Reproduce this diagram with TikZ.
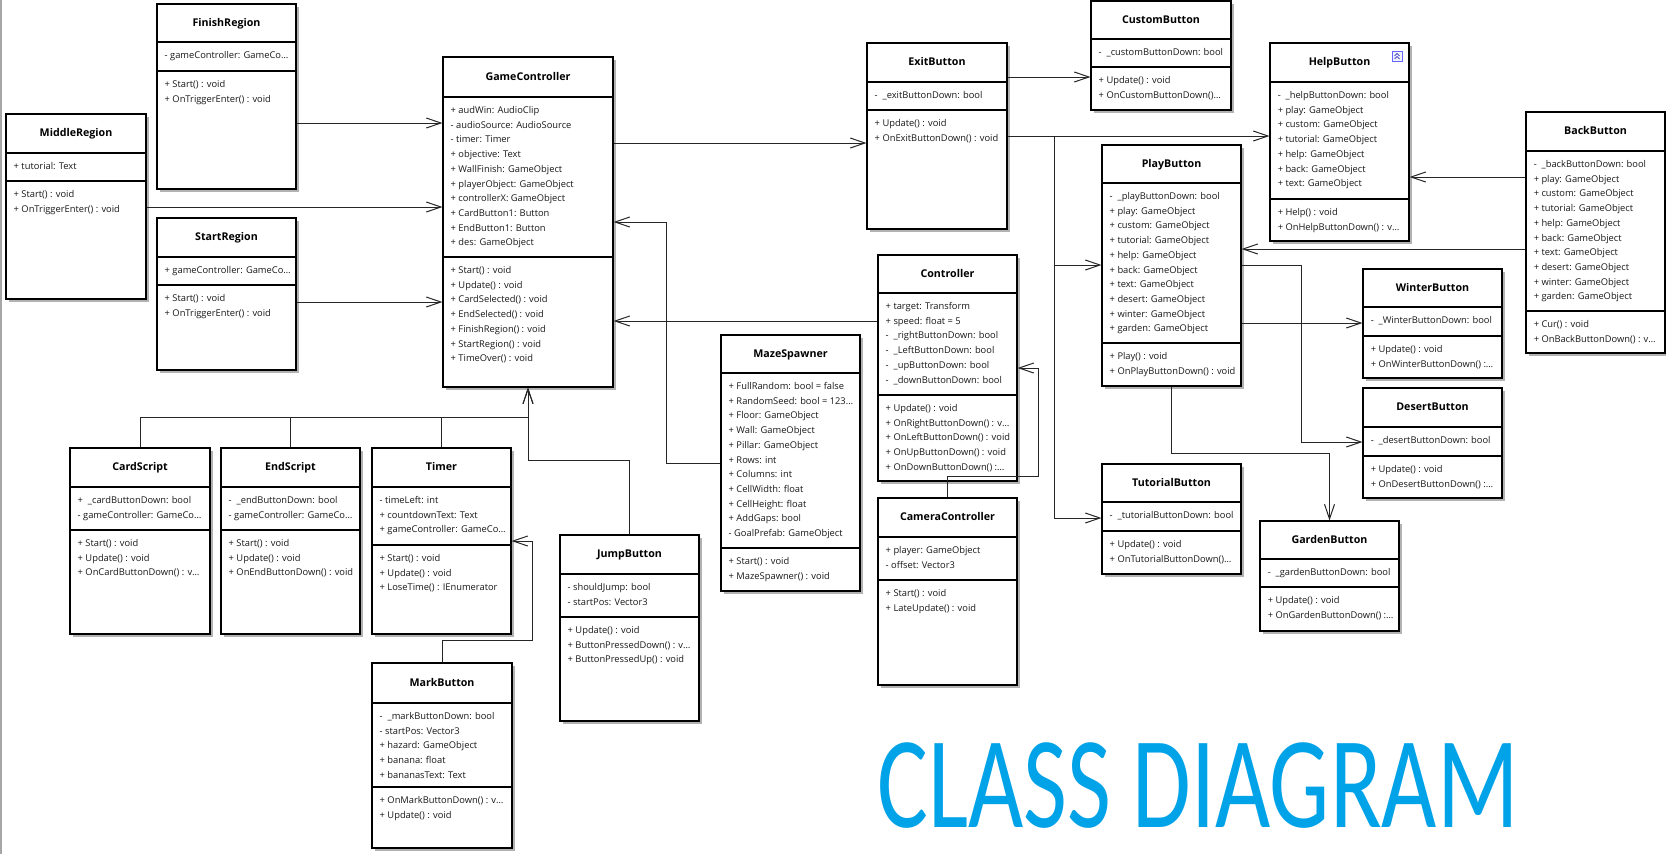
\documentclass[tikz,border=0pt]{standalone}
\usepackage{fontspec}
\setmainfont{Open Sans}
\newfontfamily\titlefont[FakeStretch=0.73]{Carlito}
\usetikzlibrary{arrows.meta,fit,calc,shadows}
\definecolor{titleblue}{RGB}{0,162,232}
\newcommand{\cut}{\dots}

\newcommand{\umlclass}[8]{%
        \node[class box,fit={(#2) (#3)}] (#1) {};
        \draw[class line] (#1.west |- 0,#4) -- (#1.east |- 0,#4);
        \draw[class line] (#1.west |- 0,#5) -- (#1.east |- 0,#5);
        \node[class name] (#1-name) at ($(#1.north)!.5!(#1.north |- 0,#4)+(0,3.5)$) {#6};
        \foreach \entry [count=\i] in {#7}
        \node[member] (#1-a\i) at ($(#1.west |- 0,#4)+(8,{16.5+14.7*(\i-1)})$) {\entry};
        \foreach \entry [count=\i] in {#8}
        \node[member] (#1-m\i) at ($(#1.west |- 0,#5)+(8,{16.5+14.7*(\i-1)})$) {\entry};
}

\begin{document}
\begin{tikzpicture}[x=0.75pt,y=-0.75pt]
        \tikzstyle{class box}=[draw=black,line width=0.8pt,fill=white,inner sep=0,drop shadow={shadow xshift=2.5pt,shadow yshift=-2.5pt,fill=black!30,opacity=1}]
        \tikzstyle{class line}=[draw=black,line width=0.8pt]
        \tikzstyle{class name}=[anchor=base,inner sep=0,font=\bfseries\fontsize{8}{9.6}\selectfont]
        \tikzstyle{member}=[anchor=base west,inner sep=0,font=\fontsize{7}{8.4}\selectfont,text=black!90]
        \tikzstyle{assoc}=[draw=black!85,line width=0.75pt,-{Straight Barb[length=11pt,width=7.5pt]}]
        \tikzstyle{plain link}=[draw=black!85,line width=0.75pt]
        \tikzstyle{diagram title}=[anchor=base,inner sep=0,font=\titlefont\fontsize{98}{98}\selectfont,text=titleblue]

        \useasboundingbox[fill=white] (0,0) rectangle (1666,854);
        \draw[gray!70,line width=1.5pt] (1,0) -- (1,854);

        \umlclass{finish}{157,4}{296,189}{42}{71}{FinishRegion}
        {- gameController: GameCo\cut}
        {+ Start() : void,+ OnTriggerEnter() : void}
        \umlclass{middle}{6,114}{146,299}{153}{181}{MiddleRegion}
        {+ tutorial: Text}
        {+ Start() : void,+ OnTriggerEnter() : void}
        \umlclass{start}{157,218}{296,370}{257}{285}{StartRegion}
        {+ gameController: GameCo\cut}
        {+ Start() : void,+ OnTriggerEnter() : void}
        \umlclass{gc}{443,57}{613,387}{97}{257}{GameController}
        {+ audWin: AudioClip,- audioSource: AudioSource,- timer: Timer,+ objective: Text,+ WallFinish: GameObject,+ playerObject: GameObject,+ controllerX: GameObject,+ CardButton1: Button,+ EndButton1: Button,+ des: GameObject}
        {+ Start() : void,+ Update() : void,+ CardSelected() : void,+ EndSelected() : void,+ FinishRegion() : void,+ StartRegion() : void,+ TimeOver() : void}
        \umlclass{exit}{867,43}{1007,229}{82}{110}{ExitButton}
        {-\ \ \_exitButtonDown: bool}
        {+ Update() : void,+ OnExitButtonDown() : void}
        \umlclass{custom}{1091,1}{1231,110}{39}{67}{CustomButton}
        {-\ \ \_customButtonDown: bool}
        {+ Update() : void,+ OnCustomButtonDown()\cut}
        \umlclass{help}{1270,43}{1409,241}{82}{199}{HelpButton}
        {-\ \ \_helpButtonDown: bool,+ play: GameObject,+ custom: GameObject,+ tutorial: GameObject,+ help: GameObject,+ back: GameObject,+ text: GameObject}
        {+ Help() : void,+ OnHelpButtonDown() : v\cut}
        \umlclass{back}{1526,112}{1665,353}{151}{311}{BackButton}
        {-\ \ \_backButtonDown: bool,+ play: GameObject,+ custom: GameObject,+ tutorial: GameObject,+ help: GameObject,+ back: GameObject,+ text: GameObject,+ desert: GameObject,+ winter: GameObject,+ garden: GameObject}
        {+ Cur() : void,+ OnBackButtonDown() : v\cut}
        \umlclass{play}{1102,145}{1241,386}{183}{343}{PlayButton}
        {-\ \ \_playButtonDown: bool,+ play: GameObject,+ custom: GameObject,+ tutorial: GameObject,+ help: GameObject,+ back: GameObject,+ text: GameObject,+ desert: GameObject,+ winter: GameObject,+ garden: GameObject}
        {+ Play() : void,+ OnPlayButtonDown() : void}
        \umlclass{winter}{1363,269}{1502,378}{307}{336}{WinterButton}
        {-\ \ \_WinterButtonDown: bool}
        {+ Update() : void,+ OnWinterButtonDown() :\cut}
        \umlclass{desert}{1363,388}{1502,498}{427}{456}{DesertButton}
        {-\ \ \_desertButtonDown: bool}
        {+ Update() : void,+ OnDesertButtonDown() :\cut}
        \umlclass{tutorial}{1102,464}{1241,574}{502}{531}{TutorialButton}
        {-\ \ \_tutorialButtonDown: bool}
        {+ Update() : void,+ OnTutorialButtonDown()\cut}
        \umlclass{garden}{1260,521}{1399,631}{559}{587}{GardenButton}
        {-\ \ \_gardenButtonDown: bool}
        {+ Update() : void,+ OnGardenButtonDown() :\cut}
        \umlclass{ctrl}{878,255}{1017,481}{293}{395}{Controller}
        {+ target: Transform,+ speed: float = 5,-\ \ \_rightButtonDown: bool,-\ \ \_LeftButtonDown: bool,-\ \ \_upButtonDown: bool,-\ \ \_downButtonDown: bool}
        {+ Update() : void,+ OnRightButtonDown() : v\cut,+ OnLeftButtonDown() : void,+ OnUpButtonDown() : void,+ OnDownButtonDown() :\cut}
        \umlclass{camera}{878,498}{1017,685}{537}{580}{CameraController}
        {+ player: GameObject,- offset: Vector3}
        {+ Start() : void,+ LateUpdate() : void}
        \umlclass{maze}{721,335}{860,591}{373}{548}{MazeSpawner}
        {+ FullRandom: bool = false,+ RandomSeed: bool = 123\cut,+ Floor: GameObject,+ Wall: GameObject,+ Pillar: GameObject,+ Rows: int,+ Columns: int,+ CellWidth: float,+ CellHeight: float,+ AddGaps: bool,- GoalPrefab: GameObject}
        {+ Start() : void,+ MazeSpawner() : void}
        \umlclass{card}{70,448}{210,634}{487}{530}{CardScript}
        {+\ \ \_cardButtonDown: bool,- gameController: GameCo\cut}
        {+ Start() : void,+ Update() : void,+ OnCardButtonDown() : v\cut}
        \umlclass{endscr}{221,448}{360,634}{487}{530}{EndScript}
        {-\ \ \_endButtonDown: bool,- gameController: GameCo\cut}
        {+ Start() : void,+ Update() : void,+ OnEndButtonDown() : void}
        \umlclass{timer}{372,448}{511,634}{487}{545}{Timer}
        {- timeLeft: int,+ countdownText: Text,+ gameController: GameCo\cut}
        {+ Start() : void,+ Update() : void,+ LoseTime() : IEnumerator}
        \umlclass{mark}{372,663}{512,848}{703}{787}{MarkButton}
        {-\ \ \_markButtonDown: bool,- startPos: Vector3,+ hazard: GameObject,+ banana: float,+ bananasText: Text}
        {+ OnMarkButtonDown() : v\cut,+ Update() : void}
        \umlclass{jump}{560,535}{699,721}{574}{617}{JumpButton}
        {- shouldJump: bool,- startPos: Vector3}
        {+ Update() : void,+ ButtonPressedDown() : v\cut,+ ButtonPressedUp() : void}

        \draw[draw=blue!60,fill=blue!5,line width=0.5pt] (1392,51) rectangle (1402,61);
        \draw[blue!70!black,line width=0.5pt] (1394.5,56) -- (1397,53.5) -- (1399.5,56) (1394.5,59) -- (1397,56.5) -- (1399.5,59);

        \draw[assoc] (finish.east |- 0,123) -- (gc.west |- 0,123);
        \draw[assoc] (middle.east |- 0,207) -- (gc.west |- 0,207);
        \draw[assoc] (start.east |- 0,302) -- (gc.west |- 0,302);
        \draw[assoc] (gc.east |- 0,143) -- (exit.west |- 0,143);
        \draw[assoc] (exit.east |- 0,77) -- (custom.west |- 0,77);
        \draw[assoc] (exit.east |- 0,136) -- (help.west |- 0,136);
        \coordinate (exitfork) at (1054,136);
        \draw[assoc] (exitfork) |- (play.west |- 0,265);
        \draw[assoc] (exitfork) |- (tutorial.west |- 0,518);
        \draw[assoc] (back.west |- 0,177) -- (help.east |- 0,177);
        \draw[assoc] (back.west |- 0,249) -- (play.east |- 0,249);
        \draw[assoc] (play.east |- 0,323) -- (winter.west |- 0,323);
        \draw[assoc] (play.east |- 0,265) -- ++(60,0) |- (desert.west |- 0,442);
        \draw[assoc] (play.south) -- ++(0,67) -| (garden.north);
        \draw[assoc] (ctrl.west |- 0,321) -- (gc.east |- 0,321);
        \draw[assoc] (maze.west |- 0,463) -- ++(-54,0) |- (gc.east |- 0,222);
        \draw[assoc] (camera.north) -- ++(0,-21) -- ++(91,0) |- (ctrl.east |- 0,368);
        \draw[assoc] (card.north) |- (gc.south |- 0,417) -- (gc.south);
        \draw[plain link] (endscr.north) -- (endscr.north |- 0,417);
        \draw[plain link] (timer.north) -- (timer.north |- 0,417);
        \draw[assoc] (jump.north) -- ++(0,-74) -| (gc.south);
        \draw[assoc] (mark.north) -- ++(0,-22) -- ++(90,0) |- (timer.east |- 0,541);

        \node[diagram title] (title) at (1198,827) {CLASS DIAGRAM};
\end{tikzpicture}
\end{document}
